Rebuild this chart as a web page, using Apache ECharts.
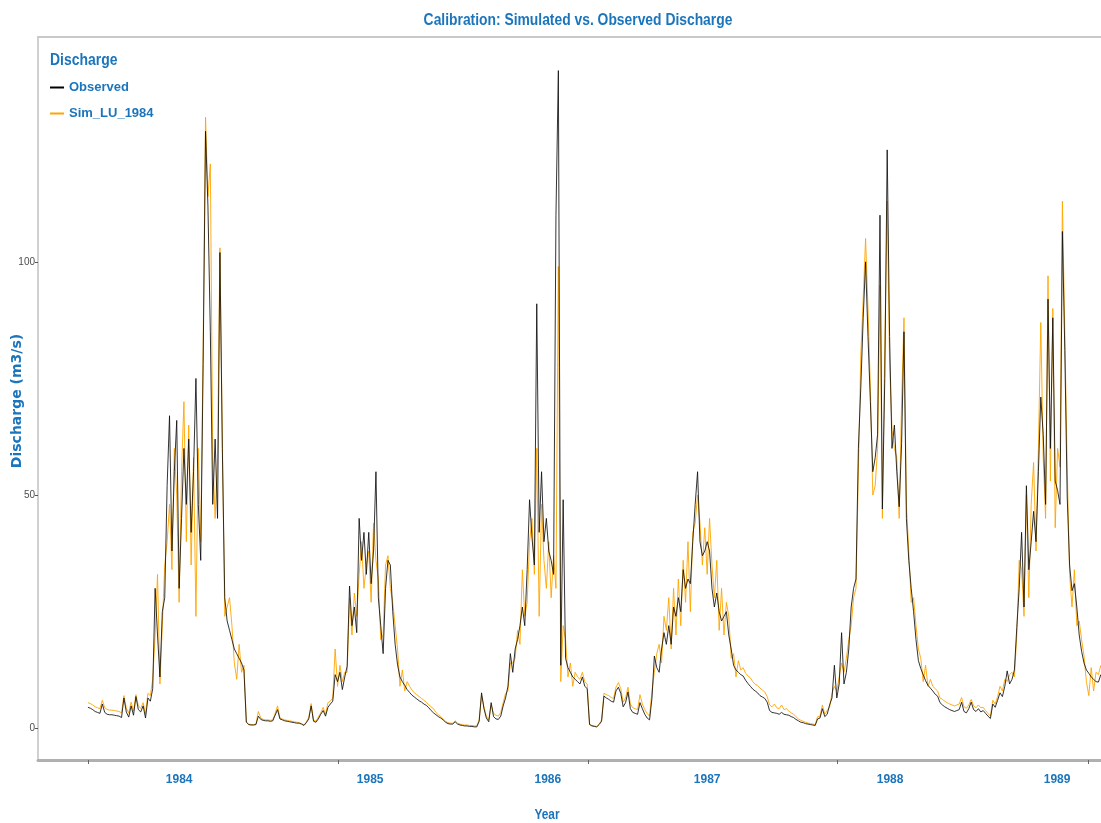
<!DOCTYPE html>
<html><head><meta charset="utf-8">
<script src="https://cdn.jsdelivr.net/npm/echarts@6/dist/echarts.min.js"></script>
<style>html,body{margin:0;padding:0;background:#fff;overflow:hidden}#c{width:1101px;height:823px}</style>
</head><body><div id="c"></div><script>
// one sample every 5 days, day 0 = start of record
const DAY_STEP = 5;
const observed = [
4.5,4.3,4.0,3.6,3.4,3.2,5.2,3.4,3.0,2.9,
2.9,2.8,2.7,2.6,2.3,6.5,3.5,2.4,4.8,2.8,
6.8,4.0,3.5,4.8,2.2,6.5,5.8,8.5,30,20,
11,25,28,52,67,38,55,66,30,45,
60,48,62,42,55,75,48,36,78,128,
112,85,48,62,45,102,60,28,23,21,
19,17,16,15,14,12.5,1.3,0.8,0.7,0.7,
0.8,2.6,1.9,1.7,1.6,1.6,1.5,1.6,2.8,4.0,
2.0,1.8,1.6,1.5,1.4,1.3,1.2,1.1,1.1,0.9,
0.6,1.2,2.0,4.8,1.5,1.3,2.0,3.0,3.8,2.6,
4.5,5.2,5.8,11.5,10,12,8.3,11,13.3,30.5,
22,26,20.5,45,36,42,33,42,31,38,
55,28,22,16,30,36,35,25,18,13.6,
11,10,9.2,8.3,7.7,7.1,6.7,6.3,5.9,5.6,
5.2,4.9,4.4,3.8,3.3,2.9,2.5,2.2,1.8,1.3,
1.0,0.9,0.9,1.4,0.9,0.7,0.6,0.5,0.5,0.4,
0.4,0.3,0.3,1.5,7.6,4.2,2.2,1.4,5.5,2.5,
2.0,1.9,2.6,4.8,6.5,9.0,16,12,17,19,
22,26,22,34,49,41,35,91,42,55,
40,45,38,36,33,110,141,13.5,49,15,
13,12,11,10.5,10,9.5,11,9.0,8.5,0.8,
0.5,0.4,0.3,0.8,1.5,6.9,6.5,6.2,5.8,5.6,
8.0,8.8,7.5,4.6,5.5,7.8,4.2,3.4,3.2,3.0,
5.5,4.2,3.0,2.2,1.8,6.5,15.5,13,12,17,
20.5,18,22,18,26,24,28,25,34,30,
32,31,40,48,55,40,37,38,40,38,
30,26,29,25,23,24,25,20,17,13.5,
12.5,12,11.5,11.2,10.3,9.6,9.0,8.4,8.0,7.6,
7.0,6.7,6.4,5.6,3.8,3.4,3.3,3.2,3.0,3.4,
3.0,2.9,2.8,2.5,2.3,1.9,1.6,1.3,1.2,1.0,
0.9,0.8,0.7,0.6,2.0,2.2,4.2,2.5,3.0,5.0,
6.5,13.5,6.5,9.5,20.5,9.5,12,17,26,30,
32,60,73,88,100,84,70,55,58,63,
110,47,75,124,84,60,65,55,47.5,61,
85,45,36,30,25,19,14.5,12.8,11.5,10.2,
9.2,8.6,8.0,7.3,6.9,5.5,5.0,4.6,4.3,4.0,
3.8,3.6,3.8,4.0,5.6,3.6,3.3,4.2,5.6,4.0,
3.6,4.2,3.5,3.8,3.2,2.6,2.1,5.2,4.5,6.0,
7.6,6.8,9.0,12.3,9.5,10.5,12.5,21.6,30,42,
26,52,34,40,46.5,40,55,71,63,48,
92,60,88,53,51,48,106.5,81,49.6,35,
29.5,31,26,20,16.5,14,12.5,11.8,11,10.5,
10,9.9,11.5
];
const simulated = [
5.5,5.3,5.0,4.6,4.4,4.2,6.0,4.4,4.0,3.9,
3.9,3.8,3.7,3.6,3.3,7.0,4.3,3.3,5.6,3.7,
7.2,4.8,4.3,5.5,3.0,7.5,7.0,10.5,20,33,
9.5,22,35,40,48,34,60,50,27,55,
70,40,65,35,58,24,60,40,82,131,
114,121,58,45,58,103,62,24,26,28,
22,14,10.5,18,12,13.5,1.3,0.9,0.8,0.8,
0.9,3.6,2.2,1.9,1.8,1.8,1.7,1.8,3.2,4.8,
2.2,2.0,1.8,1.7,1.6,1.5,1.4,1.3,1.2,1.0,
0.7,1.4,2.3,5.3,1.8,1.5,2.4,3.3,4.5,3.0,
5.5,5.8,6.5,17,9,13.5,10,12,12,28,
20,29,24,33,40,30,35,38,27,44,
36,32,19,20,35,37,30,27,22,17,
9,12.5,8,10,9,8.2,7.6,7.2,6.8,6.4,
6.0,5.6,5.0,4.6,4.2,3.4,2.9,2.5,2.0,1.5,
1.2,1.1,1.1,1.6,1.1,0.9,0.8,0.7,0.7,0.6,
0.6,0.5,0.5,1.8,7.0,4.6,2.6,1.8,5.0,3.2,
2.8,2.6,3.4,5.5,7.5,8.0,14,14,15,21,
18,34,24,27,40,45,33,60,24,48,
36,30,40,28,37,30,99,10,22,19,
11,14,9,12,11,10.5,12,10,9.5,0.9,
0.6,0.5,0.4,0.9,1.8,7.5,7.2,7.0,6.6,6.4,
8.8,9.8,8.5,5.6,6.5,8.8,5.2,4.4,4.2,4.0,
7.2,5.2,4.0,3.2,2.6,8,12,16,18,14,
24,21,28,17,30,20,32,22,36,27,
40,25,42,44,50,44,35,43,33,45,
35,28,36,21,30,20,27,24,15,16,
11,14.5,12.5,13,11.8,11.2,10.8,10.0,9.4,9.2,
8.6,8.2,7.8,6.8,5.0,4.6,5.2,4.4,4.2,5.0,
4.0,4.2,3.7,3.3,3.0,2.5,2.0,1.7,1.5,1.3,
1.1,1.0,0.9,0.8,2.5,2.6,5.0,3.0,3.8,4.5,
7.5,9,8,11,14,12,15,19,22,28,
30,55,80,92,105,90,73,50,52,60,
95,45,82,113,78,64,60,58,45,70,
88,48,38,27,28,22,17,15,10,13.5,
9.0,10.5,9.0,8.5,8.0,6.5,6.2,5.8,5.5,5.2,
5.0,4.8,5.0,5.2,6.6,4.6,4.3,5.0,6.2,4.8,
4.4,5.0,4.4,4.5,3.8,3.2,2.6,6.0,5.2,6.8,
9.0,8.0,10.5,10,11.5,12,11,20,36,34,
24,50,28,48,57,38,60,87,58,45,
97,53,90,43,60,56,113,85,56,33,
26,34,22,23,19,15.5,10,7,13,8,
12,11.5,13.5
];
const yearLabels = ['1984','1985','1986','1987','1988','1989'];
const yearLabelDays = [190, 588, 958, 1290, 1671, 2019];
const majorTickDays = [0, 521, 1042, 1562, 2083];
const yTicks = [0, 50, 100];

const BLUE = '#1b75bc';
const SANS = '"Liberation Sans",Arial,sans-serif';
const toPts = arr => arr.map((v, i) => [i * DAY_STEP, v]);
const X_MIN = -104, X_MAX = 2110.4;

const chart = echarts.init(document.getElementById('c'), null, {renderer: 'canvas'});
chart.setOption({
  animation: false,
  backgroundColor: '#fff',
  grid: {left: 38, top: 37, right: 0, bottom: 63, show: false},
  xAxis: [{
    type: 'value', min: X_MIN, max: X_MAX, position: 'bottom',
    splitLine: {show: false},
    axisLine: {show: true, onZero: false, lineStyle: {color: '#b0b0b0', width: 3}},
    axisTick: {show: true, length: 4, customValues: majorTickDays, lineStyle: {color: '#666'}},
    axisLabel: {
      customValues: yearLabelDays, margin: 14,
      formatter: v => { const k = yearLabelDays.indexOf(v); return k >= 0 ? yearLabels[k] : ''; },
      color: BLUE, fontFamily: SANS, fontWeight: 'bold', fontSize: 12
    }
  }, {
    type: 'value', min: X_MIN, max: X_MAX, position: 'top',
    splitLine: {show: false},
    axisLine: {show: true, onZero: false, lineStyle: {color: '#c8c8c8', width: 2}},
    axisTick: {show: false}, axisLabel: {show: false}
  }],
  yAxis: {
    type: 'value', min: -6.8, max: 148.2,
    splitLine: {show: false},
    axisLine: {show: true, onZero: false, lineStyle: {color: '#c0c0c0', width: 1.5}},
    axisTick: {show: true, length: 3, customValues: yTicks, lineStyle: {color: '#555'}},
    axisLabel: {customValues: yTicks, margin: 3, color: '#4d4d4d', fontSize: 10, fontFamily: SANS}
  },
  legend: {
    data: ['Observed', 'Sim_LU_1984'], orient: 'vertical', left: 45, top: 76,
    itemWidth: 14, itemHeight: 2, itemGap: 13, icon: 'rect',
    textStyle: {color: BLUE, fontFamily: SANS, fontWeight: 'bold', fontSize: 13}
  },
  graphic: [
    {type: 'text', x: 578, y: 20, scaleX: 0.815, style: {text: 'Calibration: Simulated vs. Observed Discharge',
      fill: BLUE, font: 'bold 17px ' + SANS, textAlign: 'center', textVerticalAlign: 'middle'}},
    {type: 'text', x: 50, y: 60, scaleX: 0.82, style: {text: 'Discharge', fill: BLUE,
      font: 'bold 17px ' + SANS, textAlign: 'left', textVerticalAlign: 'middle'}},
    {type: 'text', x: 547, y: 815, scaleX: 0.85, style: {text: 'Year', fill: BLUE,
      font: 'bold 14px ' + SANS, textAlign: 'center', textVerticalAlign: 'middle'}},
    {type: 'text', x: 17, y: 401, rotation: Math.PI / 2, style: {text: 'Discharge (m3/s)', fill: BLUE,
      font: 'bold 14px "DejaVu Sans",sans-serif', textAlign: 'center', textVerticalAlign: 'middle'}}
  ],
  series: [
    {name: 'Sim_LU_1984', type: 'line', data: toPts(simulated), showSymbol: false, z: 2,
     color: '#FFA500', lineStyle: {color: '#FFA500', width: 1, opacity: 0.9}},
    {name: 'Observed', type: 'line', data: toPts(observed), showSymbol: false, z: 3,
     color: '#000', lineStyle: {color: '#111', width: 1, opacity: 0.85}}
  ]
});
</script></body></html>
